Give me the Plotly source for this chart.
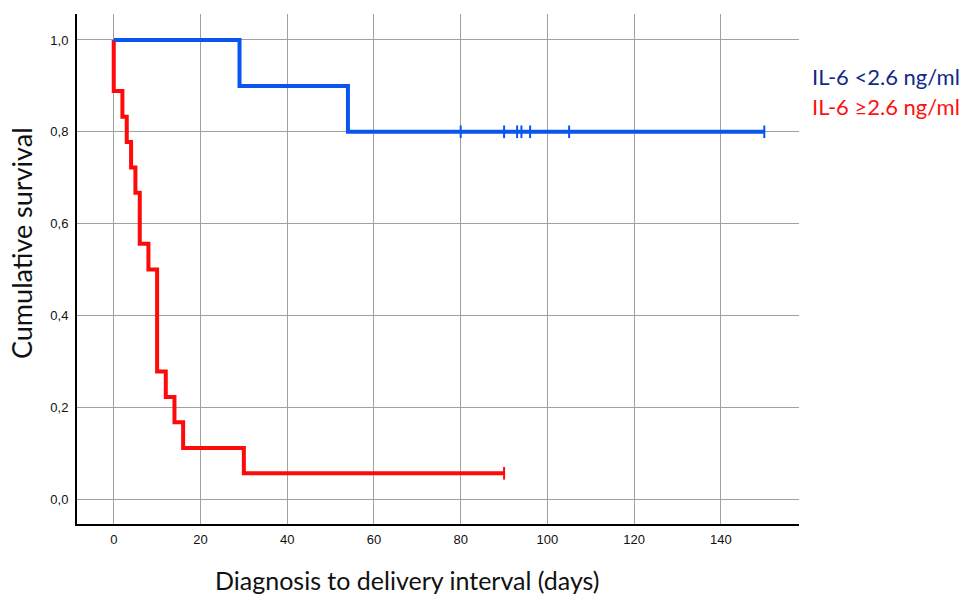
import plotly.graph_objects as go

# Kaplan-Meier data
low_times = [0, 29, 54, 150]
low_surv = [1.0, 0.9, 0.8, 0.8]
low_censor_times = [80, 90, 93, 94, 96, 105, 150]
low_censor_surv = [0.8, 0.8, 0.8, 0.8, 0.8, 0.8, 0.8]

high_times = [0, 0, 2, 3, 4, 5, 6, 8, 10, 12, 14, 16, 30, 90]
high_surv = [1.0, 0.889, 0.833, 0.778, 0.722, 0.667, 0.556, 0.5, 0.278, 0.222, 0.167, 0.111, 0.056, 0.056]
high_censor_times = [90]
high_censor_surv = [0.056]

x_ticks = [0, 20, 40, 60, 80, 100, 120, 140]
y_ticks = [0.0, 0.2, 0.4, 0.6, 0.8, 1.0]
y_tick_labels = ["0,0", "0,2", "0,4", "0,6", "0,8", "1,0"]

blue = "#0a55f0"
red = "#ff0a0a"

fig = go.Figure()
fig.add_trace(go.Scatter(x=high_times, y=high_surv, mode="lines", line=dict(color=red, width=4, shape="hv"),
                         showlegend=False, hoverinfo="skip"))
fig.add_trace(go.Scatter(x=low_times, y=low_surv, mode="lines", line=dict(color=blue, width=4, shape="hv"),
                         showlegend=False, hoverinfo="skip"))
fig.add_trace(go.Scatter(x=low_censor_times, y=low_censor_surv, mode="markers",
                         marker=dict(symbol="line-ns", size=9, line=dict(color=blue, width=2)),
                         showlegend=False, hoverinfo="skip"))
fig.add_trace(go.Scatter(x=high_censor_times, y=high_censor_surv, mode="markers",
                         marker=dict(symbol="line-ns", size=9, line=dict(color=red, width=2)),
                         showlegend=False, hoverinfo="skip"))

tick_font = dict(family="Liberation Sans, Arial, sans-serif", size=13, color="#111111")
title_font = "Lato, Open Sans, sans-serif"

fig.update_xaxes(range=[-8.47, 158], tickvals=x_ticks, showgrid=True, gridcolor="#a0a0a0", gridwidth=1,
                 showline=True, linecolor="black", linewidth=2, zeroline=False, ticks="",
                 tickfont=tick_font, ticklabelstandoff=2)
fig.update_yaxes(range=[-0.0544, 1.0566], tickvals=y_ticks, ticktext=y_tick_labels, showgrid=True,
                 gridcolor="#a0a0a0", gridwidth=1, showline=True, linecolor="black", linewidth=2,
                 zeroline=False, ticks="", tickfont=tick_font, ticklabelstandoff=4)

L, R, T, B = 77, 799, 14, 524
PW, PH = R - L, B - T


def px(xp):
    return (xp - L) / PW


def py(yp):
    return (B - yp) / PH


fig.update_layout(
    width=965, height=597,
    margin=dict(l=L, r=965 - R, t=T, b=597 - B),
    plot_bgcolor="white", paper_bgcolor="white",
    annotations=[
        dict(text="Diagnosis to delivery interval (days)", x=px(407), y=py(580), xref="paper", yref="paper",
             xanchor="center", yanchor="middle",
             showarrow=False, font=dict(family=title_font, size=25, color="#111111")),
        dict(text="Cumulative survival", x=px(22), y=py(243), xref="paper", yref="paper", textangle=-90,
             xanchor="center", yanchor="middle",
             showarrow=False, font=dict(family=title_font, size=27, color="#111111")),
        dict(text="IL-6 <2.6 ng/ml", x=px(962), y=py(76), xref="paper", yref="paper", xanchor="right",
             yanchor="middle",
             showarrow=False, font=dict(family=title_font, size=22, color="#102a8c")),
        dict(text="IL-6 \u22652.6 ng/ml", x=px(962), y=py(106), xref="paper", yref="paper", xanchor="right",
             yanchor="middle",
             showarrow=False, font=dict(family=title_font, size=22, color="#ff1010")),
    ],
)

fig.write_html("out.html", config={"displayModeBar": False},
               post_script="document.body.style.margin='0';document.body.style.padding='0';")
